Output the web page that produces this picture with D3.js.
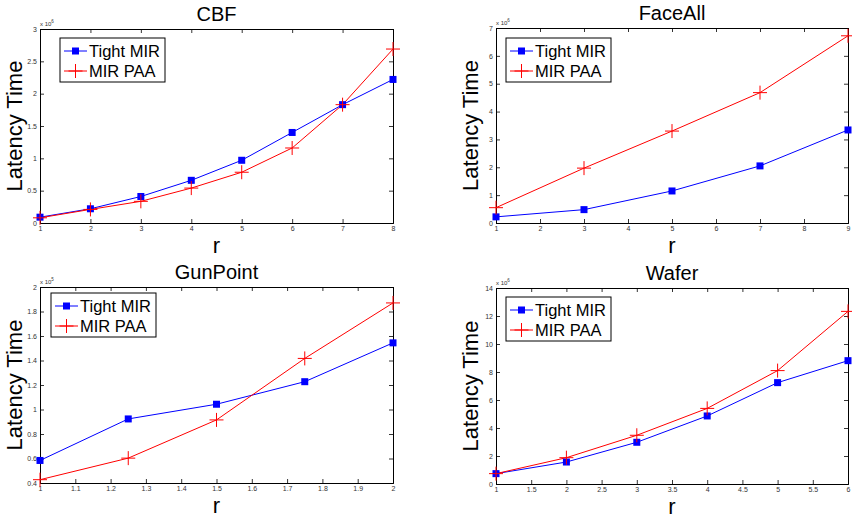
<!DOCTYPE html>
<html>
<head>
<meta charset="utf-8">
<script src="https://cdn.jsdelivr.net/npm/d3@7"></script>
<style>
  body { margin: 0; background: #fff; }
  svg { display: block; font-family: "Liberation Sans", Arial, Helvetica, sans-serif; }
  .tick text { font-size: 7px; fill: #333; }
</style>
</head>
<body>
<svg id="chart" width="852" height="516"></svg>
<script>
// ---- data (values in units of the axis multiplier) ----
const seriesNames = ['Tight MIR', 'MIR PAA']

const cbfR = [1, 2, 3, 4, 5, 6, 7, 8]
const cbfTight = [0.09, 0.22, 0.41, 0.66, 0.97, 1.40, 1.83, 2.22]
const cbfPaa = [0.08, 0.21, 0.335, 0.54, 0.785, 1.16, 1.83, 2.69]
const cbfXTicks = [1, 2, 3, 4, 5, 6, 7, 8]
const cbfYTicks = [0, 0.5, 1, 1.5, 2, 2.5, 3]

const faceR = [1, 3, 5, 7, 9]
const faceTight = [0.22, 0.48, 1.15, 2.05, 3.34]
const facePaa = [0.55, 1.97, 3.30, 4.68, 6.72]
const faceXTicks = [1, 2, 3, 4, 5, 6, 7, 8, 9]
const faceYTicks = [0, 1, 2, 3, 4, 5, 6, 7]

const gunR = [1, 1.25, 1.5, 1.75, 2]
const gunTight = [0.584, 0.923, 1.043, 1.227, 1.544]
const gunPaa = [0.427, 0.603, 0.915, 1.417, 1.87]
const gunXTicks = [1, 1.1, 1.2, 1.3, 1.4, 1.5, 1.6, 1.7, 1.8, 1.9, 2]
const gunYTicks = [0.4, 0.6, 0.8, 1, 1.2, 1.4, 1.6, 1.8, 2]

const waferR = [1, 2, 3, 4, 5, 6]
const waferTight = [0.74, 1.57, 2.98, 4.86, 7.24, 8.81]
const waferPaa = [0.74, 1.88, 3.48, 5.40, 8.10, 12.33]
const waferXTicks = [1, 1.5, 2, 2.5, 3, 3.5, 4, 4.5, 5, 5.5, 6]
const waferYTicks = [0, 2, 4, 6, 8, 10, 12, 14]

const panels = [
    { title: 'CBF', r: cbfR, tight: cbfTight, paa: cbfPaa, xTicks: cbfXTicks, yTicks: cbfYTicks, exp: '6',
      box: [40, 29, 393, 223], legend: [60, 38] },
    { title: 'FaceAll', r: faceR, tight: faceTight, paa: facePaa, xTicks: faceXTicks, yTicks: faceYTicks, exp: '6',
      box: [496, 28, 848, 223], legend: [506, 38] },
    { title: 'GunPoint', r: gunR, tight: gunTight, paa: gunPaa, xTicks: gunXTicks, yTicks: gunYTicks, exp: '5',
      box: [40, 287, 393, 483], legend: [51, 293] },
    { title: 'Wafer', r: waferR, tight: waferTight, paa: waferPaa, xTicks: waferXTicks, yTicks: waferYTicks, exp: '6',
      box: [496, 288, 848, 484], legend: [506, 297] },
]

const BLUE = '#0000ff'
const RED = '#ff0000'
const TICK = 4

const svg = d3.select('#chart')

function drawSquare(g, x, y) {
    g.append('rect')
        .attr('x', x - 3.5).attr('y', y - 3.5)
        .attr('width', 7).attr('height', 7)
        .attr('fill', BLUE)
}

function drawPlus(g, x, y) {
    g.append('path')
        .attr('d', `M${x - 7},${y}H${x + 7}M${x},${y - 7}V${y + 7}`)
        .attr('stroke', RED).attr('stroke-width', 1)
}

function drawPanel(p) {
    const [x0, y0, x1, y1] = p.box
    const xScale = d3.scaleLinear()
        .domain(d3.extent(p.xTicks))
        .range([x0, x1])
    const yScale = d3.scaleLinear()
        .domain(d3.extent(p.yTicks))
        .range([y1, y0])

    const g = svg.append('g')

    // Axes (MATLAB style: ticks inside, box on)
    const fmt = d => String(+d.toFixed(2))
    g.append('g')
        .attr('transform', `translate(0,${y1})`)
        .call(d3.axisBottom(xScale).tickValues(p.xTicks).tickSize(-TICK).tickPadding(3).tickFormat(fmt))
    g.append('g')
        .attr('transform', `translate(${x0},0)`)
        .call(d3.axisLeft(yScale).tickValues(p.yTicks).tickSize(-TICK).tickPadding(3).tickFormat(fmt))
    g.append('g')
        .attr('transform', `translate(0,${y0})`)
        .call(d3.axisTop(xScale).tickValues(p.xTicks).tickSize(-TICK).tickFormat(''))
    g.append('g')
        .attr('transform', `translate(${x1},0)`)
        .call(d3.axisRight(yScale).tickValues(p.yTicks).tickSize(-TICK).tickFormat(''))
    g.selectAll('.domain').attr('stroke', '#000').attr('stroke-width', 1)
    g.selectAll('.tick line').attr('stroke', '#000').attr('stroke-width', 0.8)

    // Series lines
    const line = d3.line()
        .x(d => xScale(d[0]))
        .y(d => yScale(d[1]))
    const tightPts = p.r.map((r, i) => [r, p.tight[i]])
    const paaPts = p.r.map((r, i) => [r, p.paa[i]])

    g.append('path').datum(tightPts)
        .attr('d', line).attr('fill', 'none').attr('stroke', BLUE).attr('stroke-width', 1)
    g.append('path').datum(paaPts)
        .attr('d', line).attr('fill', 'none').attr('stroke', RED).attr('stroke-width', 1)
    tightPts.forEach(d => drawSquare(g, xScale(d[0]), yScale(d[1])))
    paaPts.forEach(d => drawPlus(g, xScale(d[0]), yScale(d[1])))

    // Title and axis labels
    const cx = (x0 + x1) / 2
    g.append('text')
        .attr('x', cx).attr('y', y0 - 8)
        .attr('text-anchor', 'middle')
        .attr('font-size', 20)
        .text(p.title)
    g.append('text')
        .attr('x', cx).attr('y', y1 + 30)
        .attr('text-anchor', 'middle')
        .attr('font-size', 22)
        .text('r')
    g.append('text')
        .attr('transform', `translate(${x0 - 18},${(y0 + y1) / 2}) rotate(-90)`)
        .attr('text-anchor', 'middle')
        .attr('font-size', 22)
        .text('Latency Time')

    // Exponent multiplier
    const ex = g.append('text')
        .attr('x', x0).attr('y', y0 - 3)
        .attr('font-size', 6).attr('fill', '#333')
    ex.append('tspan').text('x 10')
    ex.append('tspan').attr('dy', -3).attr('font-size', 4.5).text(p.exp)

    // Legend
    const [lx, ly] = p.legend
    const lg = g.append('g').attr('transform', `translate(${lx},${ly})`)
    lg.append('rect')
        .attr('width', 105).attr('height', 44)
        .attr('fill', '#fff').attr('stroke', '#000').attr('stroke-width', 1)
    seriesNames.forEach((name, i) => {
        const yy = 13 + i * 20
        lg.append('line')
            .attr('x1', 4).attr('x2', 27).attr('y1', yy).attr('y2', yy)
            .attr('stroke', i === 0 ? BLUE : RED).attr('stroke-width', 1)
        if (i === 0) drawSquare(lg, 15.5, yy)
        else drawPlus(lg, 15.5, yy)
        lg.append('text')
            .attr('x', 29).attr('y', yy + 6)
            .attr('font-size', 16.5)
            .text(name)
    })
}

panels.forEach(drawPanel)
</script>
</body>
</html>
